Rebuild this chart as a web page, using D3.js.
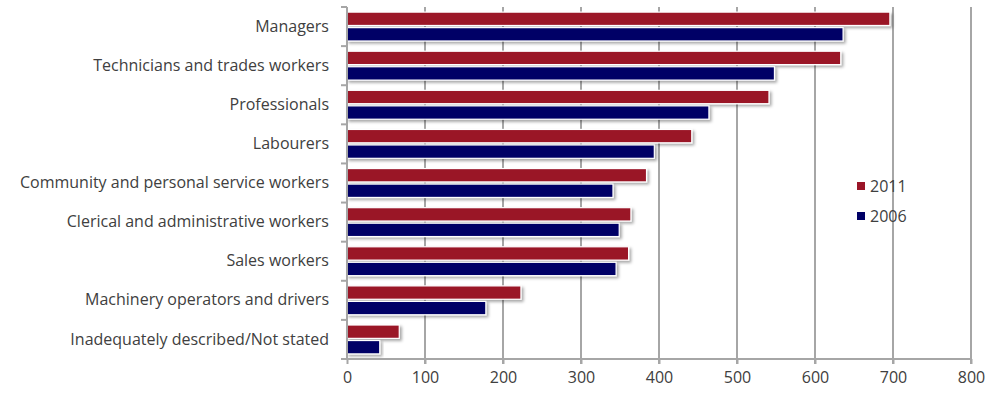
<!DOCTYPE html>
<html>
<head>
<meta charset="utf-8">
<script src="https://cdn.jsdelivr.net/npm/d3@7"></script>
<style>
  html, body { margin: 0; padding: 0; background: #fff; }
  svg { display: block; }
  text { font-family: "Open Sans", Lato, sans-serif; fill: #404040; }
</style>
</head>
<body>
<script>
const categories = [
  "Managers",
  "Technicians and trades workers",
  "Professionals",
  "Labourers",
  "Community and personal service workers",
  "Clerical and administrative workers",
  "Sales workers",
  "Machinery operators and drivers",
  "Inadequately described/Not stated"
];
const seriesNames = ["2011", "2006"];
const values2011 = [696, 633, 541, 442, 384, 364, 361, 223, 67];
const values2006 = [636, 548, 464, 394, 341, 349, 345, 178, 42];
const xTicks = [0, 100, 200, 300, 400, 500, 600, 700, 800];
const colors = ["#9a1528", "#000066"];

const W = 997, H = 393;
const margin = { left: 347, right: 26, top: 7, bottom: 34 };

const svg = d3.select("body").append("svg").attr("width", W).attr("height", H);

const defs = svg.append("defs");
const f = defs.append("filter").attr("id", "shadow")
  .attr("x", "-5%").attr("y", "-30%").attr("width", "115%").attr("height", "180%");
f.append("feDropShadow").attr("dx", 2).attr("dy", 2).attr("stdDeviation", 1.4)
  .attr("flood-color", "#000").attr("flood-opacity", 0.35);

const x = d3.scaleLinear().domain([0, 800]).range([margin.left, W - margin.right]);
const y = d3.scaleBand().domain(categories).range([margin.top, H - margin.bottom]).paddingInner(0).paddingOuter(0);
const y1 = d3.scaleBand().domain(seriesNames).range([0, y.bandwidth()]).paddingInner(0.14).paddingOuter(0.33);

// gridlines
svg.append("g").selectAll("line").data(xTicks.filter(d => d > 0)).join("line")
  .attr("x1", d => x(d)).attr("x2", d => x(d))
  .attr("y1", margin.top).attr("y2", H - margin.bottom + 5)
  .attr("stroke", "#a6a6a6").attr("stroke-width", 2);

// bars
const data = categories.map((c, i) => ({ c, vals: [values2011[i], values2006[i]] }));
const groups = svg.append("g").selectAll("g").data(data).join("g")
  .attr("transform", d => `translate(0,${y(d.c)})`);
groups.selectAll("rect").data(d => d.vals.map((v, j) => ({ v, s: seriesNames[j], j }))).join("rect")
  .attr("x", x(0))
  .attr("y", d => y1(d.s))
  .attr("width", d => x(d.v) - x(0))
  .attr("height", y1.bandwidth())
  .attr("fill", d => colors[d.j])
  .attr("stroke", "#fff").attr("stroke-width", 1.2)
  .attr("filter", "url(#shadow)");

// y axis
const yAxis = svg.append("g").attr("transform", `translate(${margin.left},0)`)
  .call(d3.axisLeft(y).tickSize(0).tickPadding(18));
yAxis.select(".domain").remove();
yAxis.selectAll("text").style("font-size", "16px").attr("fill", "#404040");
svg.append("g").selectAll("line").data(d3.range(categories.length + 1)).join("line")
  .attr("x1", margin.left - 6).attr("x2", margin.left)
  .attr("y1", i => margin.top + i * y.step()).attr("y2", i => margin.top + i * y.step())
  .attr("stroke", "#a6a6a6").attr("stroke-width", 2);
svg.append("line").attr("x1", margin.left).attr("x2", margin.left)
  .attr("y1", margin.top).attr("y2", H - margin.bottom)
  .attr("stroke", "#a6a6a6").attr("stroke-width", 2);

// x axis
const xAxis = svg.append("g").attr("transform", `translate(0,${H - margin.bottom})`)
  .call(d3.axisBottom(x).tickValues(xTicks).tickSize(5).tickPadding(8));
xAxis.select(".domain").attr("stroke", "#a6a6a6").attr("stroke-width", 2).attr("d", `M${x(0)},0H${x(800)}`);
xAxis.selectAll(".tick line").attr("stroke", "#a6a6a6").attr("stroke-width", 2);
xAxis.selectAll("text").style("font-size", "16px").attr("fill", "#404040");

// legend
const legend = svg.append("g").attr("transform", "translate(857,182)");
seriesNames.forEach((s, i) => {
  const g = legend.append("g").attr("transform", `translate(0,${i * 30})`);
  g.append("rect").attr("width", 8).attr("height", 8).attr("fill", colors[i]);
  g.append("text").attr("x", 13).attr("y", 4).attr("dy", "0.35em")
    .style("font-size", "16px").text(s);
});
</script>
</body>
</html>
